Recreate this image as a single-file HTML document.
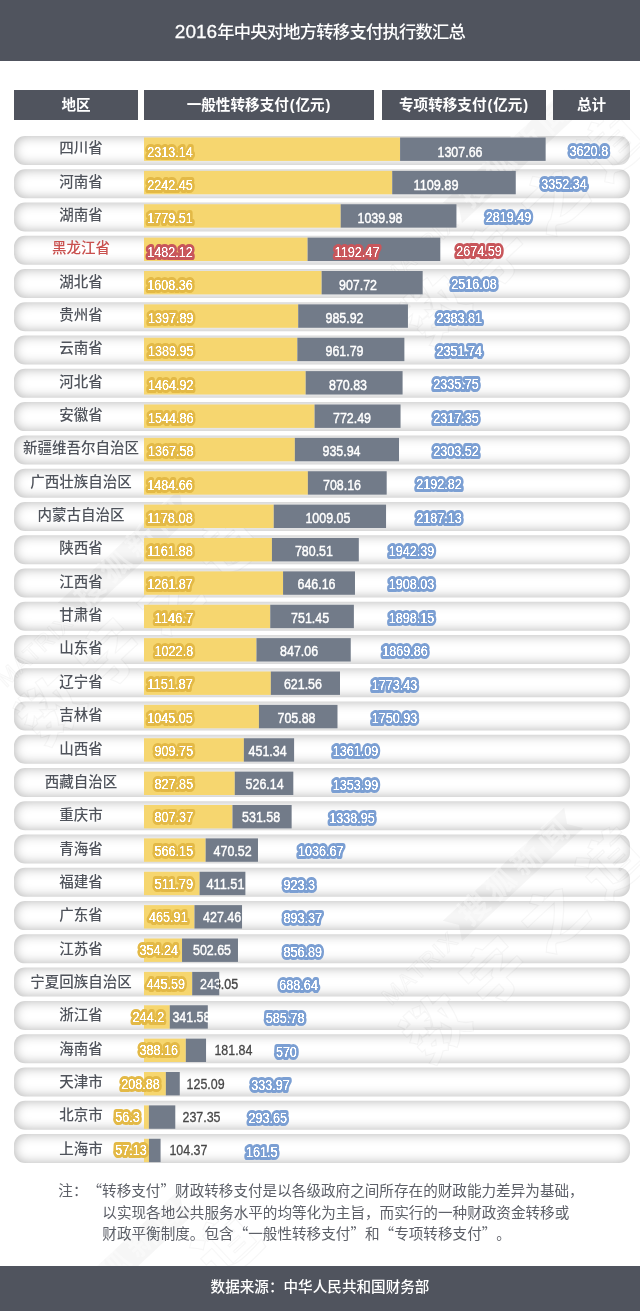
<!DOCTYPE html>
<html lang="zh-CN">
<head>
<meta charset="utf-8">
<title>2016年中央对地方转移支付执行数汇总</title>
<style>
html,body{margin:0;padding:0;background:#fff}
body{width:640px;height:1311px;position:relative;overflow:hidden;font-family:"Liberation Sans","Noto Sans CJK SC",sans-serif;color:#4a4a4a}
.hd{position:absolute;left:0;top:0;width:640px;height:61px;background:#50545e}
.hd h1{margin:0;position:absolute;left:0;right:0;top:18.5px;height:26px;line-height:26px;text-align:center;color:#fff;font-weight:500;font-size:17.3px;letter-spacing:-.75px;white-space:nowrap}
.hd h1 b{font-weight:400;font-size:19px;letter-spacing:0;-webkit-text-stroke:.3px #fff}
.th{position:absolute;top:90px;height:30px;line-height:30px;background:#50545e;color:#fff;font-weight:700;font-size:14.6px;text-align:center;white-space:nowrap}
.th u{text-decoration:none;margin:0 .9px}
.row{position:absolute;left:14px;top:0;width:616px;height:29px;border-radius:11px;background:#fff;box-shadow:inset 0 0 12px 0 rgba(0,0,0,.31)}
.nm{position:absolute;left:14.5px;width:133px;z-index:2;text-align:center;font-size:14.5px;font-weight:500;color:#4f535b;white-space:nowrap;height:20px;line-height:20px}
svg.lb .y{fill:#f6d66f}
svg.lb .g{fill:#727b89}
.nm.hot{color:#c9504e}
svg.lb{position:absolute;left:0;top:0;width:640px;height:1311px;overflow:visible}
svg.lb text{font-family:"Liberation Sans",sans-serif;font-weight:400;font-size:15.0px;fill:#fff}
svg.lb .h{filter:url(#bd);stroke-width:6.2px;stroke-linejoin:round;stroke-linecap:round;paint-order:stroke}
svg.lb .hy{stroke:#e3b946}
svg.lb .hb{stroke:#7b9fd3}
svg.lb .hr{stroke:#c8565b}
svg.lb .dk{fill:#474747}
svg.lb .gl{font-weight:400;stroke:#fff;stroke-width:.45px}
svg.lb .gl.dk{stroke:#474747;stroke-width:.3px}
svg.lb .gl.sp{fill:url(#sp);stroke:url(#sp);stroke-width:.4px}
svg.lb .gl.h{stroke-width:6.2px;stroke:#c8565b}
svg.wm{position:absolute;left:0;top:0;width:640px;height:1311px;pointer-events:none;z-index:1}
svg.wm text{font-family:"Liberation Sans","Noto Sans CJK SC",sans-serif;fill:rgba(255,255,255,.22);stroke:rgba(0,0,0,.035);stroke-width:1.3px;paint-order:stroke}
svg.wm .w1{font-size:23px;letter-spacing:1.5px}
svg.wm .w2{font-size:30px;font-weight:700;letter-spacing:6px;fill:rgba(255,255,255,.35);stroke:none}
svg.wm .w3{font-size:62px;font-weight:900;letter-spacing:18px}
svg.wm .wr{fill:rgba(0,0,0,.035)}
.hd,.th,.ft,svg.lb,.note{z-index:2}
.note{position:absolute;left:58.3px;top:1179.4px;font-family:"Noto Sans CJK SC","Liberation Sans",sans-serif;font-size:14.6px;line-height:21.25px;color:#5d6068;font-weight:400;white-space:nowrap;margin:0;text-spacing-trim:space-all;font-kerning:none;font-feature-settings:"kern" 0,"palt" 0,"halt" 0,"chws" 0}
.note span{display:block}
.ft{position:absolute;left:0;top:1266px;width:640px;height:45px;background:#50545e;color:#fff;text-align:center;font-size:14.6px;font-weight:500;line-height:42px;white-space:nowrap}
</style>
</head>
<body>
<div class="hd"><h1><b>2016</b>年中央对地方转移支付执行数汇总</h1></div>
<div class="th" style="left:14px;width:124px">地区</div>
<div class="th" style="left:144px;width:230px">一般性转移支付<u>(</u>亿元<u>)</u></div>
<div class="th" style="left:382px;width:164px">专项转移支付<u>(</u>亿元<u>)</u></div>
<div class="th" style="left:553px;width:77px">总计</div>

<div class="row" style="transform:translateY(136.00px)">
</div>
<div class="row" style="transform:translateY(169.26px)">
</div>
<div class="row" style="transform:translateY(202.53px)">
</div>
<div class="row hot" style="transform:translateY(235.80px)">
</div>
<div class="row" style="transform:translateY(269.06px)">
</div>
<div class="row" style="transform:translateY(302.32px)">
</div>
<div class="row" style="transform:translateY(335.59px)">
</div>
<div class="row" style="transform:translateY(368.86px)">
</div>
<div class="row" style="transform:translateY(402.12px)">
</div>
<div class="row" style="transform:translateY(435.38px)">
</div>
<div class="row" style="transform:translateY(468.65px)">
</div>
<div class="row" style="transform:translateY(501.92px)">
</div>
<div class="row" style="transform:translateY(535.18px)">
</div>
<div class="row" style="transform:translateY(568.44px)">
</div>
<div class="row" style="transform:translateY(601.71px)">
</div>
<div class="row" style="transform:translateY(634.98px)">
</div>
<div class="row" style="transform:translateY(668.24px)">
</div>
<div class="row" style="transform:translateY(701.50px)">
</div>
<div class="row" style="transform:translateY(734.77px)">
</div>
<div class="row" style="transform:translateY(768.03px)">
</div>
<div class="row" style="transform:translateY(801.30px)">
</div>
<div class="row" style="transform:translateY(834.57px)">
</div>
<div class="row" style="transform:translateY(867.83px)">
</div>
<div class="row" style="transform:translateY(901.10px)">
</div>
<div class="row" style="transform:translateY(934.36px)">
</div>
<div class="row" style="transform:translateY(967.62px)">
</div>
<div class="row" style="transform:translateY(1000.89px)">
</div>
<div class="row" style="transform:translateY(1034.15px)">
</div>
<div class="row" style="transform:translateY(1067.42px)">
</div>
<div class="row" style="transform:translateY(1100.68px)">
</div>
<div class="row" style="transform:translateY(1133.95px)">
</div>
<div class="names"><span class="nm" style="top:138.20px">四川省</span><span class="nm" style="top:171.55px">河南省</span><span class="nm" style="top:204.90px">湖南省</span><span class="nm hot" style="top:238.25px">黑龙江省</span><span class="nm" style="top:271.60px">湖北省</span><span class="nm" style="top:304.95px">贵州省</span><span class="nm" style="top:338.30px">云南省</span><span class="nm" style="top:371.65px">河北省</span><span class="nm" style="top:405.00px">安徽省</span><span class="nm" style="top:438.35px">新疆维吾尔自治区</span><span class="nm" style="top:471.70px">广西壮族自治区</span><span class="nm" style="top:505.05px">内蒙古自治区</span><span class="nm" style="top:538.40px">陕西省</span><span class="nm" style="top:571.75px">江西省</span><span class="nm" style="top:605.10px">甘肃省</span><span class="nm" style="top:638.45px">山东省</span><span class="nm" style="top:671.80px">辽宁省</span><span class="nm" style="top:705.15px">吉林省</span><span class="nm" style="top:738.50px">山西省</span><span class="nm" style="top:771.85px">西藏自治区</span><span class="nm" style="top:805.20px">重庆市</span><span class="nm" style="top:838.55px">青海省</span><span class="nm" style="top:871.90px">福建省</span><span class="nm" style="top:905.25px">广东省</span><span class="nm" style="top:938.60px">江苏省</span><span class="nm" style="top:971.95px">宁夏回族自治区</span><span class="nm" style="top:1005.30px">浙江省</span><span class="nm" style="top:1038.65px">海南省</span><span class="nm" style="top:1072.00px">天津市</span><span class="nm" style="top:1105.35px">北京市</span><span class="nm" style="top:1138.70px">上海市</span></div>
<svg class="lb" viewBox="0 0 640 1311" width="640" height="1311">
<defs><filter id="bd" x="-25%" y="-40%" width="150%" height="180%" color-interpolation-filters="sRGB"><feColorMatrix in="SourceGraphic" type="matrix" values="0 0 0 0 1  0 0 0 0 1  0 0 0 0 1  2 2 2 0 -4.6" result="w"/><feGaussianBlur in="w" stdDeviation="0.45" result="wb"/><feComponentTransfer in="wb" result="wt"><feFuncA type="linear" slope="2.4" intercept="0"/></feComponentTransfer><feMerge><feMergeNode in="SourceGraphic"/><feMergeNode in="wt"/></feMerge></filter><linearGradient id="sp" gradientUnits="userSpaceOnUse" x1="0" y1="0" x2="640" y2="0"><stop offset="0.34258" stop-color="#fff"/><stop offset="0.34258" stop-color="#474747"/></linearGradient></defs>
<rect class="y" x="144.00" y="137.50" width="256.08" height="23.40"/>
<rect class="g" x="400.08" y="137.50" width="145.56" height="23.40"/>
<text class="h hy" x="147.35" y="156.75" textLength="45.50" lengthAdjust="spacingAndGlyphs">2313.14</text>
<text class="gl" x="437.50" y="156.75" textLength="45.00" lengthAdjust="spacingAndGlyphs">1307.66</text>
<text class="h hb" x="569.60" y="155.65" textLength="38.55" lengthAdjust="spacingAndGlyphs">3620.8</text>
<rect class="y" x="144.00" y="170.88" width="248.21" height="23.40"/>
<rect class="g" x="392.21" y="170.88" width="123.54" height="23.40"/>
<text class="h hy" x="147.35" y="190.03" textLength="45.50" lengthAdjust="spacingAndGlyphs">2242.45</text>
<text class="gl" x="413.50" y="190.03" textLength="45.00" lengthAdjust="spacingAndGlyphs">1109.89</text>
<text class="h hb" x="541.35" y="189.02" textLength="45.50" lengthAdjust="spacingAndGlyphs">3352.34</text>
<rect class="y" x="144.00" y="204.25" width="196.68" height="23.40"/>
<rect class="g" x="340.68" y="204.25" width="115.76" height="23.40"/>
<text class="h hy" x="147.35" y="223.31" textLength="45.50" lengthAdjust="spacingAndGlyphs">1779.51</text>
<text class="gl" x="357.50" y="223.31" textLength="45.00" lengthAdjust="spacingAndGlyphs">1039.98</text>
<text class="h hb" x="485.85" y="222.39" textLength="45.50" lengthAdjust="spacingAndGlyphs">2819.49</text>
<rect class="y" x="144.00" y="237.62" width="163.57" height="23.40"/>
<rect class="g" x="307.57" y="237.62" width="132.73" height="23.40"/>
<text class="h hr" x="147.35" y="256.59" textLength="45.50" lengthAdjust="spacingAndGlyphs">1482.12</text>
<text class="h hr gl" x="334.50" y="256.59" textLength="45.00" lengthAdjust="spacingAndGlyphs">1192.47</text>
<text class="h hr" x="456.35" y="255.76" textLength="45.50" lengthAdjust="spacingAndGlyphs">2674.59</text>
<rect class="y" x="144.00" y="271.00" width="177.63" height="23.40"/>
<rect class="g" x="321.63" y="271.00" width="101.04" height="23.40"/>
<text class="h hy" x="147.35" y="289.87" textLength="45.50" lengthAdjust="spacingAndGlyphs">1608.36</text>
<text class="gl" x="339.00" y="289.87" textLength="38.05" lengthAdjust="spacingAndGlyphs">907.72</text>
<text class="h hb" x="451.35" y="289.13" textLength="45.50" lengthAdjust="spacingAndGlyphs">2516.08</text>
<rect class="y" x="144.00" y="304.38" width="154.20" height="23.40"/>
<rect class="g" x="298.20" y="304.38" width="109.74" height="23.40"/>
<text class="h hy" x="147.90" y="323.15" textLength="45.50" lengthAdjust="spacingAndGlyphs">1397.89</text>
<text class="gl" x="325.50" y="323.15" textLength="38.05" lengthAdjust="spacingAndGlyphs">985.92</text>
<text class="h hb" x="436.45" y="322.50" textLength="45.50" lengthAdjust="spacingAndGlyphs">2383.81</text>
<rect class="y" x="144.00" y="337.75" width="153.32" height="23.40"/>
<rect class="g" x="297.32" y="337.75" width="107.06" height="23.40"/>
<text class="h hy" x="147.90" y="356.43" textLength="45.50" lengthAdjust="spacingAndGlyphs">1389.95</text>
<text class="gl" x="325.50" y="356.43" textLength="38.05" lengthAdjust="spacingAndGlyphs">961.79</text>
<text class="h hb" x="436.45" y="355.87" textLength="45.50" lengthAdjust="spacingAndGlyphs">2351.74</text>
<rect class="y" x="144.00" y="371.12" width="161.66" height="23.40"/>
<rect class="g" x="305.66" y="371.12" width="96.93" height="23.40"/>
<text class="h hy" x="147.90" y="389.71" textLength="45.50" lengthAdjust="spacingAndGlyphs">1464.92</text>
<text class="gl" x="329.00" y="389.71" textLength="38.05" lengthAdjust="spacingAndGlyphs">870.83</text>
<text class="h hb" x="433.35" y="389.24" textLength="45.50" lengthAdjust="spacingAndGlyphs">2335.75</text>
<rect class="y" x="144.00" y="404.50" width="170.56" height="23.40"/>
<rect class="g" x="314.56" y="404.50" width="85.99" height="23.40"/>
<text class="h hy" x="147.90" y="422.99" textLength="45.50" lengthAdjust="spacingAndGlyphs">1544.86</text>
<text class="gl" x="333.00" y="422.99" textLength="38.05" lengthAdjust="spacingAndGlyphs">772.49</text>
<text class="h hb" x="433.35" y="422.61" textLength="45.50" lengthAdjust="spacingAndGlyphs">2317.35</text>
<rect class="y" x="144.00" y="437.88" width="150.83" height="23.40"/>
<rect class="g" x="294.83" y="437.88" width="104.18" height="23.40"/>
<text class="h hy" x="147.90" y="456.27" textLength="45.50" lengthAdjust="spacingAndGlyphs">1367.58</text>
<text class="gl" x="322.50" y="456.27" textLength="38.05" lengthAdjust="spacingAndGlyphs">935.94</text>
<text class="h hb" x="433.35" y="455.98" textLength="45.50" lengthAdjust="spacingAndGlyphs">2303.52</text>
<rect class="y" x="144.00" y="471.25" width="163.86" height="23.40"/>
<rect class="g" x="307.86" y="471.25" width="78.83" height="23.40"/>
<text class="h hy" x="147.35" y="489.55" textLength="45.50" lengthAdjust="spacingAndGlyphs">1484.66</text>
<text class="gl" x="323.00" y="489.55" textLength="38.05" lengthAdjust="spacingAndGlyphs">708.16</text>
<text class="h hb" x="416.35" y="489.35" textLength="45.50" lengthAdjust="spacingAndGlyphs">2192.82</text>
<rect class="y" x="144.00" y="504.62" width="129.73" height="23.40"/>
<rect class="g" x="273.73" y="504.62" width="112.32" height="23.40"/>
<text class="h hy" x="147.35" y="522.83" textLength="45.50" lengthAdjust="spacingAndGlyphs">1178.08</text>
<text class="gl" x="305.40" y="522.83" textLength="45.00" lengthAdjust="spacingAndGlyphs">1009.05</text>
<text class="h hb" x="416.35" y="522.72" textLength="45.50" lengthAdjust="spacingAndGlyphs">2187.13</text>
<rect class="y" x="144.00" y="538.00" width="127.93" height="23.40"/>
<rect class="g" x="271.93" y="538.00" width="86.88" height="23.40"/>
<text class="h hy" x="147.35" y="556.11" textLength="45.50" lengthAdjust="spacingAndGlyphs">1161.88</text>
<text class="gl" x="294.90" y="556.11" textLength="38.05" lengthAdjust="spacingAndGlyphs">780.51</text>
<text class="h hb" x="388.85" y="556.09" textLength="45.50" lengthAdjust="spacingAndGlyphs">1942.39</text>
<rect class="y" x="144.00" y="571.38" width="139.06" height="23.40"/>
<rect class="g" x="283.06" y="571.38" width="71.92" height="23.40"/>
<text class="h hy" x="147.35" y="589.39" textLength="45.50" lengthAdjust="spacingAndGlyphs">1261.87</text>
<text class="gl" x="297.50" y="589.39" textLength="38.05" lengthAdjust="spacingAndGlyphs">646.16</text>
<text class="h hb" x="388.85" y="589.46" textLength="45.50" lengthAdjust="spacingAndGlyphs">1908.03</text>
<rect class="y" x="144.00" y="604.75" width="126.24" height="23.40"/>
<rect class="g" x="270.24" y="604.75" width="83.64" height="23.40"/>
<text class="h hy" x="154.60" y="622.67" textLength="38.55" lengthAdjust="spacingAndGlyphs">1146.7</text>
<text class="gl" x="291.10" y="622.67" textLength="38.05" lengthAdjust="spacingAndGlyphs">751.45</text>
<text class="h hb" x="388.85" y="622.83" textLength="45.50" lengthAdjust="spacingAndGlyphs">1898.15</text>
<rect class="y" x="144.00" y="638.12" width="112.45" height="23.40"/>
<rect class="g" x="256.45" y="638.12" width="94.29" height="23.40"/>
<text class="h hy" x="154.60" y="655.95" textLength="38.55" lengthAdjust="spacingAndGlyphs">1022.8</text>
<text class="gl" x="280.10" y="655.95" textLength="38.05" lengthAdjust="spacingAndGlyphs">847.06</text>
<text class="h hb" x="382.35" y="656.20" textLength="45.50" lengthAdjust="spacingAndGlyphs">1869.86</text>
<rect class="y" x="144.00" y="671.50" width="126.81" height="23.40"/>
<rect class="g" x="270.81" y="671.50" width="69.19" height="23.40"/>
<text class="h hy" x="147.35" y="689.23" textLength="45.50" lengthAdjust="spacingAndGlyphs">1151.87</text>
<text class="gl" x="283.90" y="689.23" textLength="38.05" lengthAdjust="spacingAndGlyphs">621.56</text>
<text class="h hb" x="371.85" y="689.57" textLength="45.50" lengthAdjust="spacingAndGlyphs">1773.43</text>
<rect class="y" x="144.00" y="704.88" width="114.92" height="23.40"/>
<rect class="g" x="258.92" y="704.88" width="78.57" height="23.40"/>
<text class="h hy" x="147.35" y="722.51" textLength="45.50" lengthAdjust="spacingAndGlyphs">1045.05</text>
<text class="gl" x="277.50" y="722.51" textLength="38.05" lengthAdjust="spacingAndGlyphs">705.88</text>
<text class="h hb" x="371.85" y="722.94" textLength="45.50" lengthAdjust="spacingAndGlyphs">1750.93</text>
<rect class="y" x="144.00" y="738.25" width="99.86" height="23.40"/>
<rect class="g" x="243.86" y="738.25" width="50.24" height="23.40"/>
<text class="h hy" x="154.60" y="755.79" textLength="38.55" lengthAdjust="spacingAndGlyphs">909.75</text>
<text class="gl" x="248.60" y="755.79" textLength="38.05" lengthAdjust="spacingAndGlyphs">451.34</text>
<text class="h hb" x="332.85" y="756.31" textLength="45.50" lengthAdjust="spacingAndGlyphs">1361.09</text>
<rect class="y" x="144.00" y="771.62" width="90.75" height="23.40"/>
<rect class="g" x="234.75" y="771.62" width="58.56" height="23.40"/>
<text class="h hy" x="154.60" y="789.07" textLength="38.55" lengthAdjust="spacingAndGlyphs">827.85</text>
<text class="gl" x="245.60" y="789.07" textLength="38.05" lengthAdjust="spacingAndGlyphs">526.14</text>
<text class="h hb" x="332.85" y="789.68" textLength="45.50" lengthAdjust="spacingAndGlyphs">1353.99</text>
<rect class="y" x="144.00" y="805.00" width="88.47" height="23.40"/>
<rect class="g" x="232.47" y="805.00" width="59.17" height="23.40"/>
<text class="h hy" x="154.60" y="822.35" textLength="38.55" lengthAdjust="spacingAndGlyphs">807.37</text>
<text class="gl" x="242.10" y="822.35" textLength="38.05" lengthAdjust="spacingAndGlyphs">531.58</text>
<text class="h hb" x="329.15" y="823.05" textLength="45.50" lengthAdjust="spacingAndGlyphs">1338.95</text>
<rect class="y" x="144.00" y="838.38" width="61.62" height="23.40"/>
<rect class="g" x="205.62" y="838.38" width="52.37" height="23.40"/>
<text class="h hy" x="154.60" y="855.63" textLength="38.55" lengthAdjust="spacingAndGlyphs">566.15</text>
<text class="gl" x="213.60" y="855.63" textLength="38.05" lengthAdjust="spacingAndGlyphs">470.52</text>
<text class="h hb" x="298.05" y="856.42" textLength="45.50" lengthAdjust="spacingAndGlyphs">1036.67</text>
<rect class="y" x="144.00" y="871.75" width="55.57" height="23.40"/>
<rect class="g" x="199.57" y="871.75" width="45.81" height="23.40"/>
<text class="h hy" x="154.60" y="888.91" textLength="38.55" lengthAdjust="spacingAndGlyphs">511.79</text>
<text class="gl" x="206.50" y="888.91" textLength="38.05" lengthAdjust="spacingAndGlyphs">411.51</text>
<text class="h hb" x="283.45" y="889.79" textLength="31.60" lengthAdjust="spacingAndGlyphs">923.3</text>
<rect class="y" x="144.00" y="905.12" width="50.46" height="23.40"/>
<rect class="g" x="194.46" y="905.12" width="47.58" height="23.40"/>
<text class="h hy" x="149.10" y="922.19" textLength="38.55" lengthAdjust="spacingAndGlyphs">465.91</text>
<text class="gl" x="203.10" y="922.19" textLength="38.05" lengthAdjust="spacingAndGlyphs">427.46</text>
<text class="h hb" x="283.45" y="923.16" textLength="38.55" lengthAdjust="spacingAndGlyphs">893.37</text>
<rect class="y" x="144.00" y="938.50" width="38.03" height="23.40"/>
<rect class="g" x="182.03" y="938.50" width="55.95" height="23.40"/>
<text class="h hy" x="139.40" y="955.47" textLength="38.55" lengthAdjust="spacingAndGlyphs">354.24</text>
<text class="gl" x="193.00" y="955.47" textLength="38.05" lengthAdjust="spacingAndGlyphs">502.65</text>
<text class="h hb" x="283.45" y="956.53" textLength="38.55" lengthAdjust="spacingAndGlyphs">856.89</text>
<rect class="y" x="144.00" y="971.88" width="48.20" height="23.40"/>
<rect class="g" x="192.20" y="971.88" width="27.05" height="23.40"/>
<text class="h hy" x="146.50" y="988.75" textLength="38.55" lengthAdjust="spacingAndGlyphs">445.59</text>
<text class="gl sp" x="200.10" y="988.75" textLength="38.05" lengthAdjust="spacingAndGlyphs">243.05</text>
<text class="h hb" x="279.35" y="989.90" textLength="38.55" lengthAdjust="spacingAndGlyphs">688.64</text>
<rect class="y" x="144.00" y="1005.25" width="25.78" height="23.40"/>
<rect class="g" x="169.78" y="1005.25" width="38.02" height="23.40"/>
<text class="h hy" x="132.60" y="1022.03" textLength="31.60" lengthAdjust="spacingAndGlyphs">244.2</text>
<text class="gl" x="172.40" y="1022.03" textLength="38.05" lengthAdjust="spacingAndGlyphs">341.58</text>
<text class="h hb" x="265.85" y="1023.27" textLength="38.55" lengthAdjust="spacingAndGlyphs">585.78</text>
<rect class="y" x="144.00" y="1038.62" width="41.81" height="23.40"/>
<rect class="g" x="185.81" y="1038.62" width="20.24" height="23.40"/>
<text class="h hy" x="139.40" y="1055.31" textLength="38.55" lengthAdjust="spacingAndGlyphs">388.16</text>
<text class="dk gl" x="214.40" y="1055.31" textLength="38.05" lengthAdjust="spacingAndGlyphs">181.84</text>
<text class="h hb" x="275.95" y="1056.64" textLength="20.85" lengthAdjust="spacingAndGlyphs">570</text>
<rect class="y" x="144.00" y="1072.00" width="21.85" height="23.40"/>
<rect class="g" x="165.85" y="1072.00" width="13.92" height="23.40"/>
<text class="h hy" x="121.30" y="1088.59" textLength="38.55" lengthAdjust="spacingAndGlyphs">208.88</text>
<text class="dk gl" x="186.60" y="1088.59" textLength="38.05" lengthAdjust="spacingAndGlyphs">125.09</text>
<text class="h hb" x="251.25" y="1090.01" textLength="38.55" lengthAdjust="spacingAndGlyphs">333.97</text>
<rect class="y" x="144.00" y="1105.38" width="4.87" height="23.40"/>
<rect class="g" x="148.87" y="1105.38" width="26.42" height="23.40"/>
<text class="h hy" x="115.20" y="1121.87" textLength="24.65" lengthAdjust="spacingAndGlyphs">56.3</text>
<text class="dk gl" x="182.50" y="1121.87" textLength="38.05" lengthAdjust="spacingAndGlyphs">237.35</text>
<text class="h hb" x="248.55" y="1123.38" textLength="38.55" lengthAdjust="spacingAndGlyphs">293.65</text>
<rect class="y" x="144.00" y="1138.75" width="4.96" height="23.40"/>
<rect class="g" x="148.96" y="1138.75" width="11.62" height="23.40"/>
<text class="h hy" x="115.20" y="1155.15" textLength="31.60" lengthAdjust="spacingAndGlyphs">57.13</text>
<text class="dk gl" x="169.40" y="1155.15" textLength="38.05" lengthAdjust="spacingAndGlyphs">104.37</text>
<text class="h hb" x="245.95" y="1156.75" textLength="31.60" lengthAdjust="spacingAndGlyphs">161.5</text>
</svg>
<svg class="wm" viewBox="0 0 640 1311" width="640" height="1311" aria-hidden="true">
<g transform="translate(6.0 -12.0) rotate(-43)"><text class="w1" x="0" y="0">MATRIX</text><path class="wr" d="M96 -27 L262 -27 L253 -13 L262 1 L96 1 L105 -13 Z"/><text class="w2" x="112" y="-4">搜狐新闻</text><text class="w3" x="-12" y="69">数字之道</text></g>
<g transform="translate(391.0 288.0) rotate(-43)"><text class="w1" x="0" y="0">MATRIX</text><path class="wr" d="M96 -27 L262 -27 L253 -13 L262 1 L96 1 L105 -13 Z"/><text class="w2" x="112" y="-4">搜狐新闻</text><text class="w3" x="-12" y="69">数字之道</text></g>
<g transform="translate(6.0 688.0) rotate(-43)"><text class="w1" x="0" y="0">MATRIX</text><path class="wr" d="M96 -27 L262 -27 L253 -13 L262 1 L96 1 L105 -13 Z"/><text class="w2" x="112" y="-4">搜狐新闻</text><text class="w3" x="-12" y="69">数字之道</text></g>
<g transform="translate(391.0 1006.0) rotate(-43)"><text class="w1" x="0" y="0">MATRIX</text><path class="wr" d="M96 -27 L262 -27 L253 -13 L262 1 L96 1 L105 -13 Z"/><text class="w2" x="112" y="-4">搜狐新闻</text><text class="w3" x="-12" y="69">数字之道</text></g>
<g transform="translate(6.0 1388.0) rotate(-43)"><text class="w1" x="0" y="0">MATRIX</text><path class="wr" d="M96 -27 L262 -27 L253 -13 L262 1 L96 1 L105 -13 Z"/><text class="w2" x="112" y="-4">搜狐新闻</text><text class="w3" x="-12" y="69">数字之道</text></g>
</svg>
<p class="note"><span>注：“转移支付”财政转移支付是以各级政府之间所存在的财政能力差异为基础，</span><span style="padding-left:44px">以实现各地公共服务水平的均等化为主旨，而实行的一种财政资金转移或</span><span style="padding-left:44px">财政平衡制度。包含“一般性转移支付”和“专项转移支付”。</span></p>
<div class="ft">数据来源：中华人民共和国财务部</div>
</body>
</html>
